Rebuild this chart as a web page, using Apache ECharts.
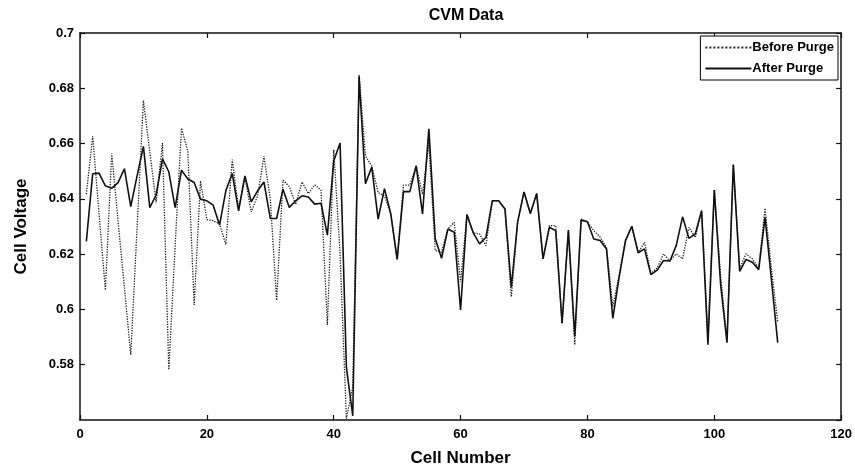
<!DOCTYPE html>
<html>
<head>
<meta charset="utf-8">
<title>CVM Data</title>
<script src="https://cdn.jsdelivr.net/npm/echarts@6/dist/echarts.min.js"></script>
<style>
  html, body { margin: 0; padding: 0; background: #fff; }
  #chart { width: 855px; height: 472px; }
</style>
</head>
<body>
<div id="chart"></div>
<script>
// cell index 1..110
const cellNumbers = Array.from({ length: 110 }, (_, i) => i + 1);

// voltages
const beforePurge = [
  0.6417, 0.6626, 0.6348, 0.6070, 0.6564, 0.6320, 0.6080, 0.5836, 0.6296, 0.6756,
  0.6572, 0.6387, 0.6602, 0.5782, 0.6230, 0.6656, 0.6572, 0.6016, 0.6465, 0.6325,
  0.6321, 0.6309, 0.6235, 0.6542, 0.6363, 0.6477, 0.6353, 0.6411, 0.6554, 0.6400,
  0.6033, 0.6467, 0.6445, 0.6380, 0.6461, 0.6419, 0.6451, 0.6431, 0.5944, 0.6578,
  0.6200, 0.5605, 0.5720, 0.6848, 0.6555, 0.6519, 0.6423, 0.6411, 0.6345, 0.6181,
  0.6450, 0.6450, 0.6519, 0.6417, 0.6602, 0.6213, 0.6207, 0.6291, 0.6315, 0.6099,
  0.6343, 0.6277, 0.6273, 0.6231, 0.6393, 0.6393, 0.6363, 0.6046, 0.6317, 0.6425,
  0.6347, 0.6419, 0.6183, 0.6303, 0.6303, 0.5950, 0.6287, 0.5872, 0.6327, 0.6317,
  0.6285, 0.6262, 0.6225, 0.6010, 0.6125, 0.6249, 0.6301, 0.6205, 0.6243, 0.6130,
  0.6150, 0.6201, 0.6175, 0.6201, 0.6183, 0.6297, 0.6261, 0.6357, 0.5905, 0.6432,
  0.6120, 0.5890, 0.6524, 0.6147, 0.6201, 0.6183, 0.6150, 0.6366, 0.6150, 0.5956
];

const afterPurge = [
  0.6246, 0.6491, 0.6493, 0.6447, 0.6438, 0.6459, 0.6509, 0.6372, 0.6483, 0.6590,
  0.6368, 0.6414, 0.6545, 0.6498, 0.6368, 0.6504, 0.6472, 0.6459, 0.6399, 0.6393,
  0.6377, 0.6305, 0.6430, 0.6492, 0.6357, 0.6483, 0.6389, 0.6429, 0.6461, 0.6329,
  0.6329, 0.6435, 0.6369, 0.6393, 0.6411, 0.6407, 0.6381, 0.6384, 0.6269, 0.6537,
  0.6602, 0.5790, 0.5615, 0.6842, 0.6455, 0.6515, 0.6327, 0.6437, 0.6345, 0.6181,
  0.6426, 0.6426, 0.6519, 0.6345, 0.6653, 0.6257, 0.6185, 0.6291, 0.6279, 0.5998,
  0.6343, 0.6277, 0.6237, 0.6261, 0.6393, 0.6393, 0.6363, 0.6081, 0.6317, 0.6425,
  0.6347, 0.6419, 0.6183, 0.6297, 0.6285, 0.5950, 0.6287, 0.5902, 0.6323, 0.6317,
  0.6255, 0.6249, 0.6219, 0.5968, 0.6117, 0.6249, 0.6301, 0.6205, 0.6219, 0.6126,
  0.6142, 0.6177, 0.6175, 0.6231, 0.6335, 0.6257, 0.6273, 0.6357, 0.5872, 0.6432,
  0.6090, 0.5880, 0.6524, 0.6138, 0.6181, 0.6171, 0.6144, 0.6333, 0.6110, 0.5880
];

const seriesNames = ["Before Purge", "After Purge"];

function toPairs(values) {
  return cellNumbers.map((c, i) => [c, values[i]]);
}

const chart = echarts.init(document.getElementById("chart"), null, { renderer: "canvas" });

const FONT = "'Liberation Sans', Arial, sans-serif";
const axisColor = "#111";

// shared axis look, matlab style box with inward ticks
function boxAxis(extra) {
  return Object.assign({
    type: "value",
    axisLine: { show: true, onZero: false, lineStyle: { color: axisColor, width: 1.5 } },
    axisTick: { show: true, inside: true, length: 5, lineStyle: { color: axisColor, width: 1.2 } },
    splitLine: { show: false },
    axisLabel: { show: false }
  }, extra);
}

const option = {
  backgroundColor: "#fff",
  animation: false,
  title: {
    text: "CVM Data",
    left: 461,
    textAlign: "center",
    top: 3,
    textStyle: { fontFamily: FONT, fontWeight: "bold", fontSize: 16, color: "#000" }
  },
  legend: {
    data: seriesNames,
    orient: "vertical",
    right: 17,
    top: 36,
    backgroundColor: "#fff",
    borderColor: "#000",
    borderWidth: 1,
    padding: [5, 4, 5, 4],
    itemGap: 8,
    itemWidth: 46,
    itemHeight: 10,
    itemStyle: { opacity: 0 },
    textStyle: { fontFamily: FONT, fontWeight: "bold", fontSize: 13, color: "#000", padding: [0, 0, 0, -4] }
  },
  grid: { left: 80, right: 13, top: 33, bottom: 49, containLabel: false },
  xAxis: [
    boxAxis({
      min: 0, max: 120, interval: 20,
      name: "Cell Number",
      nameLocation: "middle",
      nameGap: 30,
      nameTextStyle: { fontFamily: FONT, fontWeight: "bold", fontSize: 17, color: "#000" },
      axisLabel: { show: true, margin: 8, fontFamily: FONT, fontWeight: "bold", fontSize: 13, color: "#000" }
    }),
    boxAxis({ min: 0, max: 120, interval: 20, position: "top" })
  ],
  yAxis: [
    boxAxis({
      min: 0.56, max: 0.7, interval: 0.02,
      name: "Cell Voltage",
      nameLocation: "middle",
      nameGap: 50,
      nameTextStyle: { fontFamily: FONT, fontWeight: "bold", fontSize: 17, color: "#000" },
      axisLabel: {
        show: true, margin: 6, showMinLabel: false,
        fontFamily: FONT, fontWeight: "bold", fontSize: 13, color: "#000",
        formatter: (v) => String(parseFloat(v.toFixed(2)))
      }
    }),
    boxAxis({ min: 0.56, max: 0.7, interval: 0.02, position: "right" })
  ],
  series: [
    {
      name: seriesNames[0],
      type: "line",
      data: toPairs(beforePurge),
      showSymbol: false,
      symbol: "none",
      lineStyle: { color: "#222", width: 1.3, type: "dotted" },
      itemStyle: { color: "#222" },
      z: 2
    },
    {
      name: seriesNames[1],
      type: "line",
      data: toPairs(afterPurge),
      showSymbol: false,
      symbol: "none",
      lineStyle: { color: "#111", width: 1.6, type: "solid" },
      itemStyle: { color: "#111" },
      z: 3
    }
  ]
};

chart.setOption(option);
</script>
</body>
</html>
